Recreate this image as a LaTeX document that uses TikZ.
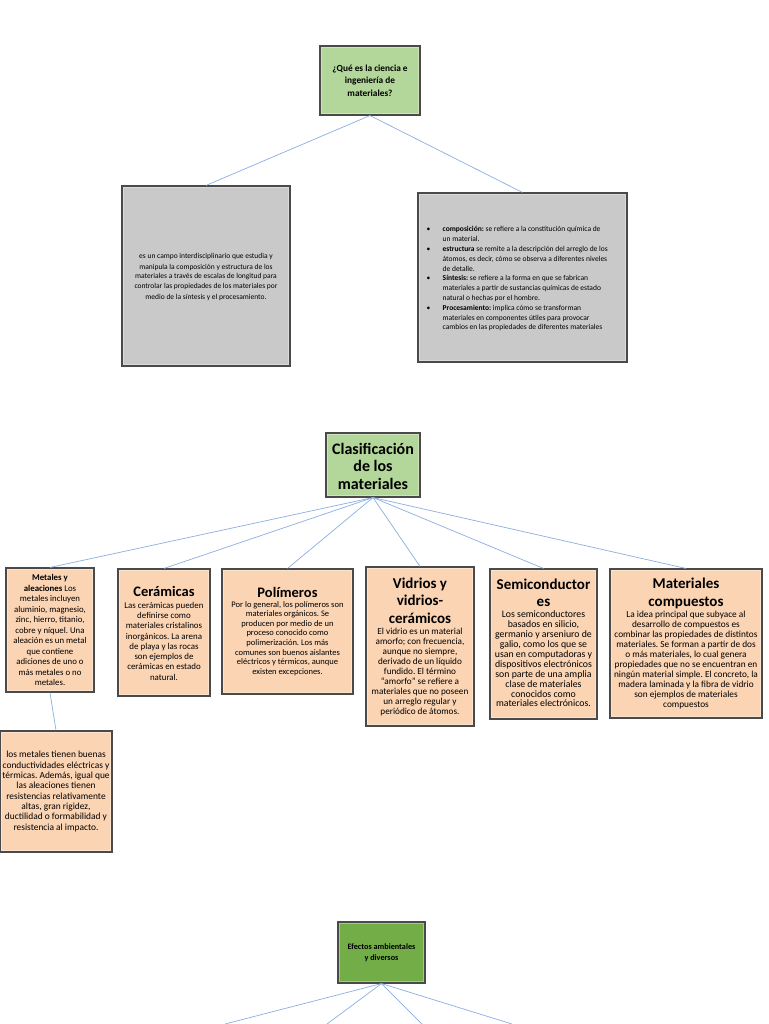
\documentclass[tikz,border=0pt]{standalone}
\usepackage{fontspec}
\setmainfont{Carlito}
\usetikzlibrary{shadows}
\newcommand\fs[2]{\fontsize{#1}{#2}\selectfont}
\newcommand\tightlines{\lineskiplimit=-50pt\relax\frenchspacing}
\definecolor{conncol}{HTML}{8CAEE2}
\definecolor{edgecol}{HTML}{4A4A4A}
\definecolor{lgreen}{HTML}{B3D69A}
\definecolor{dgreen}{HTML}{72AD48}
\definecolor{gbody}{HTML}{C9C9C9}
\definecolor{peach}{HTML}{FBD4B4}
\tikzset{
  bx/.style={draw=edgecol, line width=1.1pt, inner sep=0pt,
    drop shadow={shadow xshift=1.2pt, shadow yshift=-1.2pt, opacity=0.3},
    path picture={\draw[white, opacity=0.35, line width=4pt]
      (path picture bounding box.north west) rectangle (path picture bounding box.south east);}},
  lgbox/.style={bx, fill=lgreen},
  dgbox/.style={bx, fill=dgreen},
  graybox/.style={bx, fill=gbody},
  obox/.style={bx, fill=peach},
  txt/.style={text width=230pt, align=flush center, inner sep=0pt, text=black,
    font=\tightlines},
  conn/.style={draw=conncol, line width=0.7pt}
}
\begin{document}
\frenchspacing
\begin{tikzpicture}[x=1pt,y=-1pt]
\useasboundingbox[fill=white] (0,0) rectangle (768,1024);

% ---------- section 1 ----------
\node[lgbox, minimum width=100pt, minimum height=69pt] (q) at (370,80.5) {};
\node[txt] (q-t) at (370,80.5) {\fs{9.3}{12.5}\bfseries ¿Qué es la ciencia e\\ ingeniería de\\ materiales?\par};

\node[graybox, minimum width=168pt, minimum height=180pt] (gl) at (206,276) {};
\node[txt] (gl-t) at (206,277) {\fs{7.5}{10}es un campo interdisciplinario que estudia y\\ manipula la composición y estructura de los\\ materiales a través de escalas de longitud para\\ controlar las propiedades de los materiales por\\ medio de la síntesis y el procesamiento.\par};

\node[graybox, minimum width=209pt, minimum height=169pt] (gr) at (522.5,277.5) {};
\node[anchor=west, inner sep=0pt, font=\frenchspacing] (gr-t) at (426.5,279) {\fs{7.5}{9.8}%
\begin{tabular}{@{}p{16pt}@{}l@{}}
•& \textbf{composición:} se refiere a la constitución química de\\
 & un material.\\
•& \textbf{estructura} se remite a la descripción del arreglo de los\\
 & átomos, es decir, cómo se observa a diferentes niveles\\
 & de detalle.\\
•& \textbf{Síntesis:} se refiere a la forma en que se fabrican\\
 & materiales a partir de sustancias químicas de estado\\
 & natural o hechas por el hombre.\\
•& \textbf{Procesamiento:} implica cómo se transforman\\
 & materiales en componentes útiles para provocar\\
 & cambios en las propiedades de diferentes materiales
\end{tabular}};

\draw[conn] (q.south) -- (gl.north);
\draw[conn] (q.south) -- (gr.north);

% ---------- section 2 ----------
\node[lgbox, minimum width=94pt, minimum height=64pt] (cl) at (373,465) {};
\node[txt] (cl-t) at (373,466) {\fs{16}{17.5}\bfseries Clasificación\\ de los\\ materiales\par};

\node[obox, minimum width=88pt, minimum height=124pt] (met) at (50,630) {};
\node[txt] (met-t) at (50,630) {\fs{8.8}{10.5}\textbf{Metales y}\\ \textbf{aleaciones} Los\\ metales incluyen\\ aluminio, magnesio,\\ zinc, hierro, titanio,\\ cobre y níquel. Una\\ aleación es un metal\\ que contiene\\ adiciones de uno o\\ más metales o no\\ metales.\par};

\node[obox, minimum width=92pt, minimum height=127pt] (cer) at (164,632.5) {};
\node[txt] (cer-t) at (164,633.5) {{\fs{14.5}{17.5}\bfseries Cerámicas\par}\vspace{1pt}\fs{8.9}{10.3}Las cerámicas pueden\\ definirse como\\ materiales cristalinos\\ inorgánicos. La arena\\ de playa y las rocas\\ son ejemplos de\\ cerámicas en estado\\ natural.\par};

\node[obox, minimum width=131pt, minimum height=125pt] (pol) at (287.5,631.5) {};
\node[txt] (pol-t) at (287.5,631.5) {{\fs{14.5}{17.5}\bfseries Polímeros\par}\fs{8.5}{9.6}Por lo general, los polímeros son\\ materiales orgánicos. Se\\ producen por medio de un\\ proceso conocido como\\ polimerización. Los más\\ comunes son buenos aislantes\\ eléctricos y térmicos, aunque\\ existen excepciones.\par};

\node[obox, minimum width=108pt, minimum height=159pt] (vid) at (420,646.5) {};
\node[txt] (vid-t) at (420,646.5) {{\fs{15}{17.5}\bfseries Vidrios y\\ vidrios-\\ cerámicos\par}\vspace{1pt}\fs{9.2}{10}El vidrio es un material\\ amorfo; con frecuencia,\\ aunque no siempre,\\ derivado de un líquido\\ fundido. El término\\ “amorfo” se refiere a\\ materiales que no poseen\\ un arreglo regular y\\ periódico de átomos.\par};

\node[obox, minimum width=107pt, minimum height=150pt] (sem) at (543.5,644) {};
\node[txt] (sem-t) at (543.5,643) {{\fs{15}{17.5}\bfseries Semiconductor\\ es\par}\vspace{1pt}\fs{9.8}{9.9}Los semiconductores\\ basados en silicio,\\ germanio y arseniuro de\\ galio, como los que se\\ usan en computadoras y\\ dispositivos electrónicos\\ son parte de una amplia\\ clase de materiales\\ conocidos como\\ materiales electrónicos.\par};

\node[obox, minimum width=152pt, minimum height=149pt] (mat) at (686,643.5) {};
\node[txt] (mat-t) at (686,643.5) {{\fs{15}{17.5}\bfseries Materiales\\ compuestos\par}\vspace{1pt}\fs{9.3}{10}La idea principal que subyace al\\ desarrollo de compuestos es\\ combinar las propiedades de distintos\\ materiales. Se forman a partir de dos\\ o más materiales, lo cual genera\\ propiedades que no se encuentran en\\ ningún material simple. El concreto, la\\ madera laminada y la fibra de vidrio\\ son ejemplos de materiales\\ compuestos\par};

\node[obox, minimum width=112pt, minimum height=121pt] (det) at (56,791.5) {};
\node[txt] (det-t) at (56,791.5) {\fs{9.4}{10.3}los metales tienen buenas\\ conductividades eléctricas y\\ térmicas. Además, igual que\\ las aleaciones tienen\\ resistencias relativamente\\ altas, gran rigidez,\\ ductilidad o formabilidad y\\ resistencia al impacto.\par};

\foreach \n in {met,cer,pol,vid,sem,mat}{\draw[conn] (cl.south) -- (\n.north);}
\draw[conn] (met.south) -- (det.north);

% ---------- section 3 ----------
\node[dgbox, minimum width=87pt, minimum height=61pt] (ef) at (381.5,952.5) {};
\node[txt] (ef-t) at (381.5,952.5) {\fs{8.2}{11}\bfseries Efectos ambientales\\ y diversos\par};

\coordinate (e1) at (225,1024);
\coordinate (e2) at (327,1024);
\coordinate (e3) at (422,1024);
\coordinate (e4) at (512,1024);
\foreach \n in {e1,e2,e3,e4}{\draw[conn] (ef.south) -- (\n);}
\end{tikzpicture}
\end{document}
